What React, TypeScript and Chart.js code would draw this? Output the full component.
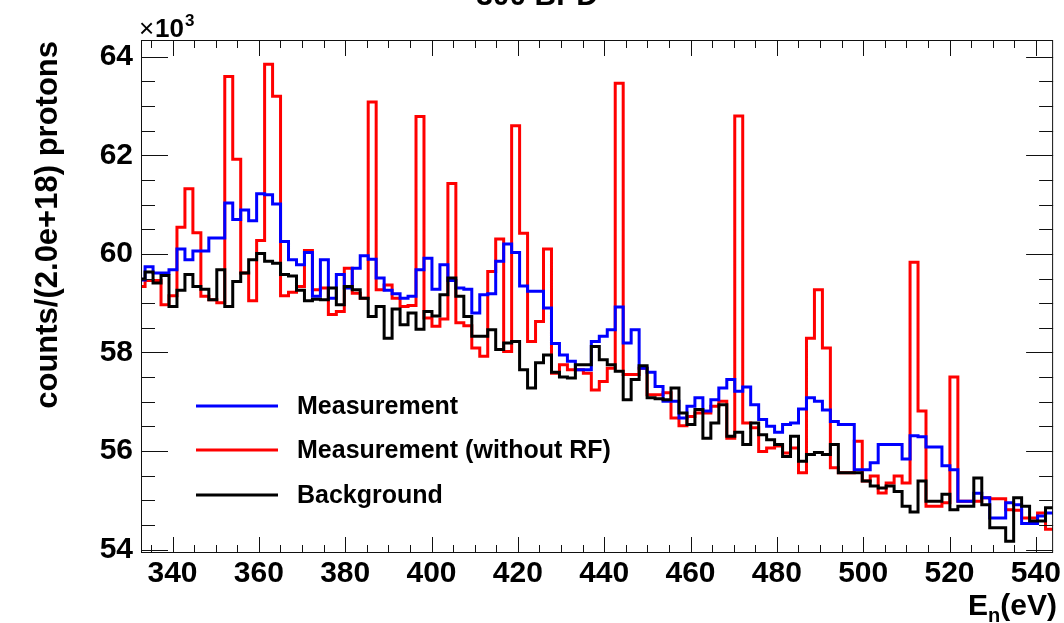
import React, { useEffect, useRef } from "react";
import { Chart, registerables } from "chart.js";

Chart.register(...registerables);

// ---- data (counts per bin) ----
const binStart = 331.8; // eV, lower edge of first bin
const binWidth = 1.846; // eV

const measurement = [
  59470, 59740, 59610, 59610, 59680, 60100, 59880, 60060, 60060, 60320,
  60320, 61030, 60700, 60890, 60670, 61220, 61200, 61010, 60250, 59880,
  59780, 60030, 59140, 59880, 59100, 59580, 59310, 59710, 59960, 59890,
  59510, 59260, 59190, 59100, 59140, 59680, 59910, 59280, 59780, 59460,
  59310, 59280, 58800, 59170, 59190, 59850, 60200, 60030, 59350, 59240,
  59240, 58900, 58180, 57950, 57820, 57650, 57650, 58220, 58330, 58460,
  58920, 58190, 58460, 57680, 57600, 57310, 57010, 57010, 56670, 56910,
  57080, 56810, 57040, 57280, 57450, 57210, 57300, 56940, 56640, 56500,
  56380, 56540, 56570, 56850, 57080, 57010, 56830, 56600, 56540, 56540,
  55620, 55620, 55760, 56130, 56130, 56130, 55840, 56310, 56290, 56080,
  56080, 55700, 55620, 54980, 54980, 55140, 55050, 54640, 54640, 54950,
  54910, 54530, 54530, 54680, 54740,
];

const measurementNoRF = [
  59340, 59460, 59460, 58970, 59150, 60540, 61320, 60430, 59140, 59070,
  59010, 63600, 61920, 59610, 59050, 60270, 63850, 63200, 59150, 59220,
  59340, 60070, 59270, 59310, 58770, 58830, 59710, 59200, 59100, 63080,
  59270, 59370, 59100, 58930, 58950, 62790, 58700, 58530, 58680, 61430,
  58600, 58540, 58090, 57920, 59640, 60300, 58020, 62600, 60420, 58220,
  58630, 60100, 57580, 57750, 57650, 57650, 57580, 57240, 57410, 57680,
  63460, 57550, 57550, 57680, 57140, 57140, 57180, 56670, 56510, 56700,
  56770, 56770, 56910, 57010, 56260, 62800, 56570, 56470, 55990, 56060,
  56100, 55960, 56060, 55560, 58290, 59270, 58090, 55660, 55560, 55560,
  56200, 55390, 55490, 55150, 55350, 55490, 55350, 59830, 56810, 54880,
  54880, 54950, 57500, 54980, 54980, 54980, 55050, 55030, 55030, 54810,
  54800, 54640, 54640, 54740, 54410,
];

const background = [
  59490, 59630, 59410, 59560, 58930, 59260, 59580, 59340, 59280, 59070,
  59680, 58930, 59440, 59610, 59880, 60010, 59850, 59810, 59580, 59550,
  59260, 59050, 59080, 59070, 59310, 58970, 59340, 59270, 59100, 58730,
  58930, 58290, 58880, 58560, 58800, 58470, 58830, 58740, 59170, 59510,
  59140, 58730, 58330, 58330, 58460, 58060, 58190, 58220, 57650, 57280,
  57790, 57950, 57600, 57500, 57480, 57750, 57750, 58120, 57850, 57750,
  57620, 57040, 57450, 57730, 57080, 57060, 57040, 57280, 56770, 56540,
  56840, 56260, 56570, 56940, 56300, 56380, 56130, 56570, 56330, 56230,
  56130, 55890, 56300, 55790, 55930, 55970, 55930, 56130, 55560, 55560,
  55560, 55390, 55290, 55250, 55290, 55180, 54880, 54760, 55390, 54980,
  54980, 55120, 54810, 54880, 54880, 55450, 54910, 54440, 54440, 54170,
  55050, 54880, 54580, 54580, 54850,
];

const seriesNames = ["Measurement", "Measurement (without RF)", "Background"];
const seriesColors = ["#0000ff", "#ff0000", "#000000"];

const xTickValues = [340, 360, 380, 400, 420, 440, 460, 480, 500, 520, 540];
const yTickValues = [54000, 56000, 58000, 60000, 62000, 64000];
const X_MIN = 332.7;
const X_MAX = 544.0;
const Y_MIN = 53930;
const Y_MAX = 64340;

const plotTitle = "300 BPD";
const yTitle = "counts/(2.0e+18) protons";

function histPoints(vals: number[]) {
  const pts = vals.map((v, i) => ({ x: binStart + i * binWidth, y: v }));
  pts.push({ x: binStart + vals.length * binWidth, y: vals[vals.length - 1] });
  return pts;
}

const FONT = "'Liberation Sans', Arial, Helvetica, sans-serif";

const rootFrame = {
  id: "rootFrame",
  afterDatasetsDraw(chart: any) {
    const { ctx, chartArea: a, scales } = chart;
    const x = scales.x;
    const y = scales.y;
    ctx.save();
    ctx.strokeStyle = "#111";
    ctx.lineWidth = 1;
    ctx.strokeRect(a.left + 0.5, a.top + 0.5, a.right - a.left - 1, a.bottom - a.top - 1);
    ctx.beginPath();
    for (let v = 335; v <= X_MAX; v += 5) {
      const px = Math.round(x.getPixelForValue(v)) + 0.5;
      const len = v % 20 === 0 ? 16 : 8;
      ctx.moveTo(px, a.bottom);
      ctx.lineTo(px, a.bottom - len);
      ctx.moveTo(px, a.top);
      ctx.lineTo(px, a.top + len);
    }
    for (let v = 54000; v <= Y_MAX; v += 500) {
      const py = Math.round(y.getPixelForValue(v)) + 0.5;
      const len = v % 2000 === 0 ? 27 : 14;
      ctx.moveTo(a.left, py);
      ctx.lineTo(a.left + len, py);
      ctx.moveTo(a.right, py);
      ctx.lineTo(a.right - len, py);
    }
    ctx.stroke();

    // legend
    const ly = [406, 450, 495];
    ctx.lineWidth = 3;
    seriesNames.forEach((name, i) => {
      ctx.strokeStyle = seriesColors[i];
      ctx.beginPath();
      ctx.moveTo(196, ly[i]);
      ctx.lineTo(278, ly[i]);
      ctx.stroke();
      ctx.fillStyle = "#000";
      ctx.font = `bold 25px ${FONT}`;
      ctx.textAlign = "left";
      ctx.textBaseline = "middle";
      ctx.fillText(name, 297, ly[i] + 1);
    });

    // x10^3
    ctx.fillStyle = "#000";
    ctx.textBaseline = "alphabetic";
    ctx.textAlign = "left";
    ctx.font = `26px ${FONT}`;
    ctx.fillText("\u00d7", 139, 37);
    ctx.font = `bold 26px ${FONT}`;
    ctx.fillText("10", 155, 37);
    ctx.font = `bold 17px ${FONT}`;
    ctx.fillText("3", 185, 26);

    // y title
    ctx.save();
    ctx.translate(48, 41);
    ctx.rotate(-Math.PI / 2);
    ctx.font = `bold 31px ${FONT}`;
    ctx.textAlign = "right";
    ctx.textBaseline = "middle";
    ctx.fillText(yTitle, 0, 0);
    ctx.restore();

    // x title E_n(eV)
    ctx.font = `bold 30px ${FONT}`;
    ctx.textAlign = "right";
    ctx.textBaseline = "alphabetic";
    const tail = "(eV)";
    const tailW = ctx.measureText(tail).width;
    ctx.fillText(tail, 1057, 615);
    ctx.font = `bold 20px ${FONT}`;
    const nW = ctx.measureText("n").width;
    ctx.fillText("n", 1057 - tailW, 622);
    ctx.font = `bold 30px ${FONT}`;
    ctx.fillText("E", 1057 - tailW - nW, 615);

    // clipped title at top
    ctx.textAlign = "center";
    ctx.font = `bold 30px ${FONT}`;
    ctx.fillText(plotTitle, 537, 5);
    ctx.restore();
  },
};

export default function App() {
  const ref = useRef<HTMLCanvasElement | null>(null);
  useEffect(() => {
    document.body.style.margin = "0";
    const canvas = ref.current;
    if (!canvas) return;
    const mk = (label: string, vals: number[], color: string, order: number) => ({
      label,
      data: histPoints(vals),
      borderColor: color,
      backgroundColor: color,
      borderWidth: 3,
      pointRadius: 0,
      fill: false,
      stepped: "before" as const,
      tension: 0,
      order,
      clip: 0,
      borderJoinStyle: "miter" as const,
    });
    const chart = new Chart(canvas, {
      type: "line",
      data: {
        datasets: [
          mk(seriesNames[2], background, seriesColors[2], 0),
          mk(seriesNames[0], measurement, seriesColors[0], 1),
          mk(seriesNames[1], measurementNoRF, seriesColors[1], 2),
        ],
      },
      options: {
        responsive: false,
        animation: false,
        devicePixelRatio: 1,
        layout: { padding: { left: 0, right: 7, top: 40, bottom: 0 } },
        plugins: {
          legend: { display: false },
          tooltip: { enabled: false },
          title: { display: false },
        },
        scales: {
          x: {
            type: "linear",
            min: X_MIN,
            max: X_MAX,
            grid: { display: false, drawTicks: false },
            border: { display: false },
            afterBuildTicks: (s: any) => {
              s.ticks = xTickValues.map((v) => ({ value: v }));
            },
            afterFit: (s: any) => {
              s.height = 70;
            },
            ticks: {
              autoSkip: false,
              maxRotation: 0,
              padding: 3,
              color: "#000",
              font: { family: FONT, weight: "bold", size: 30 },
              callback: (v: any) => String(v),
            },
          },
          y: {
            type: "linear",
            min: Y_MIN,
            max: Y_MAX,
            grid: { display: false, drawTicks: false },
            border: { display: false },
            afterBuildTicks: (s: any) => {
              s.ticks = yTickValues.map((v) => ({ value: v }));
            },
            afterFit: (s: any) => {
              s.width = 141;
            },
            ticks: {
              padding: 8,
              color: "#000",
              font: { family: FONT, weight: "bold", size: 30 },
              callback: (v: any) => String(Math.round(Number(v) / 1000)),
            },
          },
        },
      },
      plugins: [rootFrame],
    });
    return () => chart.destroy();
  }, []);
  return (
    <div style={{ width: 1064, height: 623, background: "#fff" }}>
      <canvas ref={ref} width={1064} height={623} style={{ display: "block", width: 1064, height: 623 }} />
    </div>
  );
}
